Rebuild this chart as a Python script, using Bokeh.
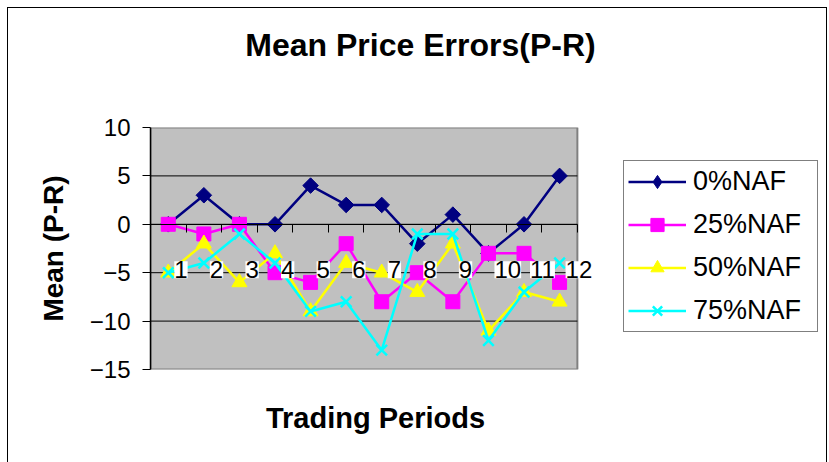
from bokeh.plotting import figure
from bokeh.layouts import row, column
from bokeh.models import (Range1d, FixedTicker, LabelSet, ColumnDataSource,
                          Legend, LegendItem, LinearAxis, Label, BoxAnnotation)
from bokeh.core.properties import value
from bokeh.embed import file_html
from bokeh.resources import INLINE
import math

periods = [1, 2, 3, 4, 5, 6, 7, 8, 9, 10, 11, 12]
period_labels = [str(p) for p in periods]
naf0 = [0, 3, 0, 0, 4, 2, 2, -2, 1, -3, 0, 5]
naf25 = [0, -1, 0, -5, -6, -2, -8, -5, -8, -3, -3, -6]
naf50 = [-5, -2, -6, -3, -9, -4, -5, -7, -2, -11, -7, -8]
naf75 = [-5, -4, -1, -4, -9, -8, -13, -1, -1, -12, -7, -4]
series_names = ["0%NAF", "25%NAF", "50%NAF", "75%NAF"]
y_ticks = [-15, -10, -5, 0, 5, 10]
title_text = "Mean Price Errors(P-R)"
x_title = "Trading Periods"
y_title = "Mean (P-R)"

FONT = "Liberation Sans"
X_END = 13.15   # frame reaches a little beyond the plot area, so the last label fits

bounds = [x - 0.5 for x in periods] + [periods[-1] + 0.5]

# ---- title strip ----
tf = figure(width=818, height=70, output_backend="svg", toolbar_location=None,
            x_axis_type=None, y_axis_type=None, title=None,
            min_border_left=0, min_border_right=0, min_border_top=0,
            min_border_bottom=0, x_range=Range1d(0, 1), y_range=Range1d(0, 1))
tf.outline_line_color = None
tf.grid.visible = False
tf.add_layout(Label(x=412, y=34, x_units="screen", y_units="screen",
                    text=title_text, text_align="center",
                    text_baseline="alphabetic", text_font=FONT,
                    text_font_style="bold", text_font_size="32px",
                    text_color="black"))

# ---- main plot ----
p = figure(width=592, height=384, output_backend="svg", toolbar_location=None,
           x_range=Range1d(bounds[0], X_END), y_range=Range1d(y_ticks[0], y_ticks[-1]),
           min_border_left=142, min_border_right=0, min_border_top=49,
           min_border_bottom=93, title=None)
p.background_fill_color = "white"
p.border_fill_color = "white"
p.outline_line_color = None
p.xgrid.grid_line_color = None
p.ygrid.grid_line_color = None

p.add_layout(BoxAnnotation(left=bounds[0], right=bounds[-1], bottom=y_ticks[0],
                           top=y_ticks[-1], fill_color="#C0C0C0", fill_alpha=1,
                           line_color="#808080", line_width=2, line_alpha=1,
                           level="underlay"))
grid_vals = y_ticks[1:-1]
p.segment(x0=[bounds[0]] * len(grid_vals), x1=[bounds[-1]] * len(grid_vals),
          y0=grid_vals, y1=grid_vals, line_color="black", line_width=1)

# y axis
p.yaxis.ticker = FixedTicker(ticks=y_ticks)
p.yaxis.major_tick_out = 8
p.yaxis.major_tick_in = 0
p.yaxis.minor_tick_line_color = None
p.yaxis.axis_line_color = "black"
p.yaxis.axis_line_width = 1.5
p.yaxis.major_label_text_font = FONT
p.yaxis.major_label_text_font_size = "24px"
p.yaxis.major_label_text_color = "black"
p.yaxis.major_label_standoff = 12
p.yaxis.axis_label = y_title
p.yaxis.axis_label_text_font = FONT
p.yaxis.axis_label_text_font_style = "bold"
p.yaxis.axis_label_text_font_size = "28px"
p.yaxis.axis_label_text_color = "black"
p.yaxis.axis_label_standoff = 18

# x axis at y=0, ticks on category boundaries
xa = p.xaxis[0]
xa.fixed_location = 0
xa.bounds = (bounds[0], bounds[-1])
xa.ticker = FixedTicker(ticks=bounds)
xa.major_label_overrides = {b: "" for b in bounds}
xa.major_tick_out = 8
xa.major_tick_in = 0
xa.minor_tick_line_color = None
xa.axis_line_color = "black"

# x axis title holder
xt = LinearAxis(axis_label=x_title, axis_line_color=None,
                major_tick_line_color=None, minor_tick_line_color=None,
                major_label_text_font_size="0px", axis_label_text_font=FONT,
                axis_label_text_font_style="bold", axis_label_text_color="black",
                axis_label_text_font_size="29px", axis_label_standoff=32)
xt.ticker = FixedTicker(ticks=[])
xt.bounds = (bounds[0], bounds[-1])
p.add_layout(xt, "below")

colors = ["#000080", "#FF00FF", "#FFFF00", "#00FFFF"]
markers = ["square", "square", "triangle", "x"]
angles = [math.pi / 4, 0, 0, 0]
sizes = [11, 14, 15, 15]
series = [naf0, naf25, naf50, naf75]
for vals, c, m, a, s in zip(series, colors, markers, angles, sizes):
    p.line(periods, vals, line_color=c, line_width=2.5)
    p.scatter(periods, vals, marker=m, size=s, angle=a, fill_color=c,
              line_color=c, line_width=2.5 if m == "x" else 1)

# category labels
src = ColumnDataSource(dict(x=periods, y=[-4.7] * len(periods), t=period_labels))
labels = LabelSet(x="x", y="y", text="t", source=src, text_align="left",
                  text_baseline="middle", x_offset=6, text_font=value(FONT),
                  text_font_size=value("24px"), text_color="black",
                  background_fill_color="white")
p.add_layout(labels)

# ---- legend panel ----
lf = figure(width=226, height=384, output_backend="svg", toolbar_location=None,
            x_axis_type=None, y_axis_type=None, title=None,
            min_border_left=0, min_border_right=0, min_border_top=0,
            min_border_bottom=0, x_range=Range1d(0, 1), y_range=Range1d(0, 1))
lf.outline_line_color = None
lf.grid.visible = False
legend_markers = ["diamond", "square", "triangle", "x"]
legend_sizes = [18, 14, 15, 15]
items = []
for name, c, m, s in zip(series_names, colors, legend_markers, legend_sizes):
    # legend swatches only: the points lie outside the visible range
    l = lf.line([5, 6], [5, 6], line_color=c, line_width=2.5)
    sc = lf.scatter([5, 6], [5, 6], marker=m, size=s, fill_color=c,
                    line_color=c, line_width=2.5 if m == "x" else 1)
    items.append(LegendItem(label=name, renderers=[l, sc]))
legend = Legend(items=items, location=(23, 37), border_line_color="black",
                border_line_width=1.5, background_fill_color="white",
                background_fill_alpha=1, label_text_font=FONT,
                label_text_font_size="27px", label_text_color="black",
                glyph_width=58, glyph_height=33, label_width=120,
                label_height=33, spacing=10, padding=4, margin=0,
                label_standoff=7)
lf.add_layout(legend, "center")

layout = column(tf, row(p, lf))
layout.styles = {"border-top": "1px solid black", "border-left": "1px solid black",
                 "border-right": "1px solid black",
                 "margin-left": "7px", "margin-top": "7px"}

open("out.html", "w").write(file_html(layout, INLINE))
